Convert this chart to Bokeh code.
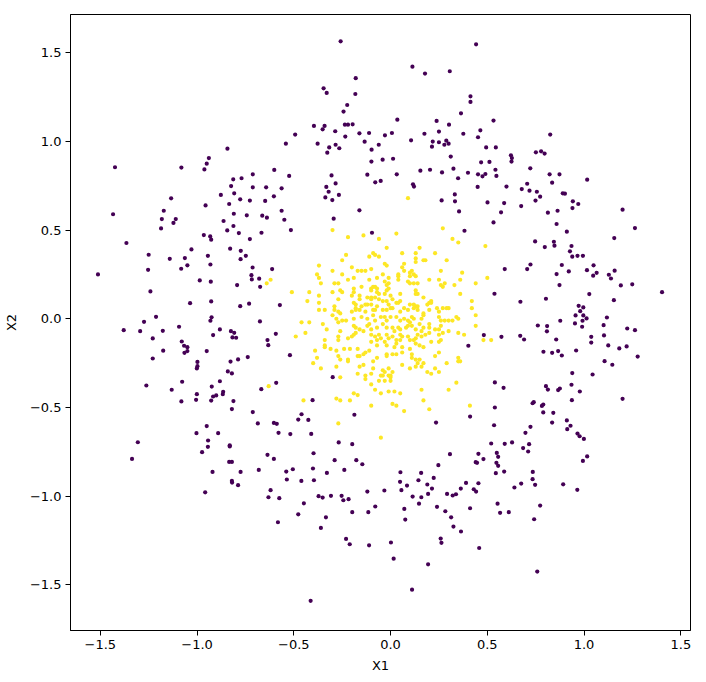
from bokeh.plotting import figure
from bokeh.models import FixedTicker, Range1d
from bokeh.embed import file_html
from bokeh.resources import INLINE

# ---- data (x = X1, y = X2) ----
# class 0: outer ring (purple)
outer_x = [
    -0.843, -0.939, -0.950, -0.962, -1.081, -1.424, -0.601, -0.712, -0.813, -0.770,
    -0.824, -0.712, -0.643, -0.808, -0.877, -0.603, -0.777, -0.727, -0.648, -1.134,
    -0.834, -0.956, -1.172, -1.434, -0.810, -0.743, -0.663, -0.639, -1.182, -1.110,
    -0.863, -1.122,
    -0.258, 0.442, 0.113, 0.178, 0.306, -0.180, -0.346, -0.330, -0.182, 0.413,
    0.413, -0.224, -0.243, 0.364, 0.035, 0.238, 0.302, -0.396, -0.341, -0.351,
    -0.236, -0.220, -0.196, -0.286, -0.161, -0.111, 0.007, -0.029, 0.175, 0.250,
    0.376, 0.464, 0.452, -0.493, -0.234, -0.541, -0.377, -0.284, -0.317, -0.265,
    -0.327, -0.134, -0.061, -0.098, 0.106, 0.218, 0.250, 0.288, 0.300, 0.278,
    0.214, 0.311, 0.468, -0.041, 0.013, -0.099, 0.154, 0.204, 0.325, 0.266,
    0.400, 0.452, 0.475, 0.349, -0.524, -0.305, -0.120, 0.032, -0.284, -0.332,
    -0.320, -0.337, -0.267, -0.301, -0.079, -0.051, 0.116, 0.121, 0.450, -0.563,
    0.264, 0.332, 0.333, 0.354, -0.161, -0.563, -0.549, -0.294,
    0.532, 0.825, 0.494, 0.544, 0.751, 0.778, 0.796, 0.622, 0.627, 0.625,
    0.511, 0.542, 0.722, 0.490, 0.547, 0.822, 0.873, 0.835, 1.016, 0.706,
    0.599, 0.678, 0.718, 0.756, 0.773, 0.890, 0.901, 0.749, 0.501, 0.587,
    0.675, 0.942, 0.970, 0.940, 0.863, 0.813, 0.571, 1.199, 0.532, 0.858,
    -1.186, -0.812, -0.844, -0.784, -0.667, -0.965, -0.932, -0.927, -0.727, -1.365,
    -0.829, -0.774, -0.748, -0.775, -1.029, -1.250, -1.141, -1.063, -0.944, -1.050,
    -0.931, -1.082, -1.253, -1.512, -0.713, -0.612, -0.719, -0.717, -0.679, -0.986,
    -0.929, -0.793, -0.674, -1.241, -1.036, -0.927, -0.777, -0.731, -1.212, -1.274,
    -0.925, -0.931, -0.675, -1.379, -1.294, -1.177, -1.093, -0.882, -0.825, -0.808,
    -0.917, -0.817, -0.798, -0.593, -0.636, -0.632, -1.229, -1.079, -1.067, -1.050,
    -1.050, -1.065, -1.175, -0.950, -1.229, -0.998, -0.827, -0.788, -0.738, -0.998,
    -1.001, -0.841, -0.820, -0.882, -1.077, -1.262, -0.924, -0.591, -1.131, -0.668,
    -0.865, -0.867, -0.901, -0.917, -1.001, -1.005, -1.081, -0.927, -0.812, -0.820,
    -0.712, -0.686, -0.603, -0.588, -0.950,
    1.263, 0.911, 1.156, 0.747, 0.797, 0.844, 0.847, 0.935, 0.927, 0.939,
    0.966, 0.994, 0.723, 0.706, 0.590, 0.885, 0.858, 0.921, 1.049, 1.015,
    1.065, 1.047, 1.128, 1.139, 1.158, 1.190, 1.249, 1.403, 0.873, 0.537,
    0.671, 0.803, 1.027, 1.154, 0.972, 0.996, 0.980, 0.956, 0.996, 1.013,
    0.992, 0.953, 0.990, 0.877, 1.118, 1.101, 0.761, 0.809, 0.808, 1.223,
    1.263, 1.103, 1.037, 1.037, 0.670, 0.690, 0.573, 0.856, 1.125, 1.182,
    1.220, 0.790, 0.835, 0.866, 0.885, 0.959, 1.277, 1.106, 1.146, 0.939,
    1.044, 0.539, 0.584, 0.803, 0.813, 0.866, 0.875, 0.935, 0.978, 1.199,
    0.937, 0.734, 0.740, 0.782, 0.789, 0.539, 0.789, 0.841, 0.835, 0.911,
    0.930, 0.913, 0.535, 0.723,
    -1.003, -0.891, -0.579, -1.306, -0.943, -0.944, -0.974, -0.831, -0.831, -1.336,
    -0.636, -0.603, -0.834, -0.820, -0.920, -0.775, -0.681, -0.820, -0.819, -0.788,
    -0.620, -0.958, -0.631, -0.575, -0.582,
    -0.518, -0.410, -0.268, -0.198, -0.398, -0.289, -0.177, -0.146, -0.401, -0.239,
    -0.539, -0.505, -0.329, -0.536, -0.461, -0.396, -0.372, -0.351, -0.308, -0.253,
    -0.244, -0.217, -0.120, -0.032, -0.448, -0.477, -0.334, -0.198, -0.115, -0.079,
    -0.360, -0.230, -0.211, -0.111, 0.002, 0.016, -0.413, 0.111, 0.194, 0.051,
    0.158, 0.049, 0.056, 0.085, 0.144, 0.190, 0.223, 0.214, 0.194, 0.114,
    0.159, 0.147, 0.071, 0.076, 0.247, 0.307, 0.454, 0.440, 0.447, 0.480,
    0.454, 0.390, 0.363, 0.430, 0.442, 0.292, 0.321, 0.338, 0.240, 0.283,
    0.313, 0.325, 0.364, 0.411, 0.259, 0.263, 0.458,
    0.697, 0.966, 0.977, 0.999, 0.520, 0.590, 0.628, 0.716, 0.685, 0.711,
    0.549, 0.556, 1.016, 0.994, 0.547, 0.556, 0.544, 0.587, 0.735, 0.734,
    0.747, 0.675, 0.640, 0.892, 0.965, 0.553, 0.773, 0.566, 0.611, 0.742,
    0.758,
    -0.515, -0.096, 0.382, -0.572, -0.520, -0.299, -0.403, -0.460, -0.477, -0.425,
    -0.187, 0.235, 0.411, 0.402, 0.482,
]
outer_y = [
    0.959, 0.906, 0.874, 0.842, 0.852, 0.854, 0.839, 0.814, 0.786, 0.792,
    0.748, 0.741, 0.741, 0.707, 0.698, 0.690, 0.673, 0.666, 0.664, 0.679,
    0.647, 0.639, 0.609, 0.589, 0.592, 0.583, 0.581, 0.570, 0.562, 0.562,
    0.551, 0.540,
    1.564, 1.547, 1.421, 1.382, 1.395, 1.356, 1.299, 1.273, 1.267, 1.254,
    1.222, 1.205, 1.168, 1.158, 1.122, 1.115, 1.094, 1.087, 1.087, 1.068,
    1.094, 1.094, 1.096, 1.057, 1.045, 1.047, 1.047, 1.034, 1.043, 1.055,
    1.043, 1.062, 1.023, 1.038, 1.027, 0.987, 0.987, 0.981, 0.966, 0.961,
    0.936, 0.998, 0.981, 0.953, 1.006, 0.999, 0.995, 1.004, 0.987, 0.981,
    0.970, 0.914, 0.882, 0.897, 0.902, 0.886, 0.835, 0.840, 0.846, 0.825,
    0.823, 0.814, 0.803, 0.792, 0.805, 0.808, 0.812, 0.814, 0.763, 0.743,
    0.716, 0.684, 0.698, 0.669, 0.769, 0.777, 0.758, 0.745, 0.743, 0.735,
    0.667, 0.701, 0.662, 0.605, 0.611, 0.609, 0.558, 0.564,
    1.117, 1.038, 0.966, 0.966, 0.938, 0.944, 0.931, 0.921, 0.906, 0.886,
    0.884, 0.840, 0.848, 0.816, 0.805, 0.814, 0.814, 0.767, 0.784, 0.761,
    0.745, 0.731, 0.722, 0.716, 0.688, 0.707, 0.705, 0.666, 0.656, 0.652,
    0.635, 0.662, 0.647, 0.624, 0.609, 0.598, 0.600, 0.615, 0.543, 0.534,
    0.509, 0.523, 0.498, 0.483, 0.485, 0.472, 0.464, 0.446, 0.449, 0.427,
    0.395, 0.383, 0.355, 0.336, 0.391, 0.361, 0.338, 0.342, 0.355, 0.301,
    0.306, 0.282, 0.276, 0.250, 0.289, 0.280, 0.246, 0.222, 0.226, 0.216,
    0.209, 0.190, 0.180, 0.154, 0.088, 0.098, 0.071, 0.085, 0.011, -0.017,
    0.008, -0.011, -0.015, -0.064, -0.070, -0.068, -0.045, -0.060, -0.070, -0.079,
    -0.092, -0.105, -0.107, -0.085, -0.120, -0.149, -0.111, -0.128, -0.152, -0.160,
    -0.182, -0.192, -0.180, -0.182, -0.224, -0.243, -0.241, -0.229, -0.216, -0.267,
    -0.280, -0.297, -0.308, -0.352, -0.355, -0.376, -0.382, -0.361, -0.400, -0.397,
    -0.412, -0.425, -0.432, -0.438, -0.425, -0.457, -0.466, -0.461, -0.464, -0.509,
    -0.526, -0.590, -0.587, -0.592, -0.605,
    0.511, 0.491, 0.455, 0.436, 0.404, 0.434, 0.412, 0.410, 0.380, 0.350,
    0.355, 0.355, 0.306, 0.280, 0.280, 0.303, 0.252, 0.267, 0.301, 0.274,
    0.259, 0.243, 0.248, 0.227, 0.271, 0.188, 0.194, 0.150, 0.190, 0.141,
    0.096, 0.113, 0.139, 0.105, 0.073, 0.064, 0.043, 0.019, 0.019, 0.002,
    -0.011, -0.026, -0.045, -0.011, 0.007, -0.036, -0.038, -0.041, -0.071, -0.055,
    -0.064, -0.094, -0.102, -0.134, -0.096, -0.117, -0.102, -0.117, -0.150, -0.167,
    -0.156, -0.186, -0.192, -0.182, -0.207, -0.179, -0.213, -0.239, -0.259, -0.306,
    -0.314, -0.359, -0.389, -0.380, -0.399, -0.402, -0.393, -0.372, -0.410, -0.451,
    -0.459, -0.476, -0.470, -0.491, -0.483, -0.500, -0.528, -0.530, -0.585, -0.573,
    -0.603, -0.622, -0.600, -0.609,
    -0.645, -0.645, -0.643, -0.696, -0.686, -0.722, -0.752, -0.713, -0.720, -0.790,
    -0.767, -0.790, -0.807, -0.807, -0.863, -0.863, -0.852, -0.914, -0.923, -0.938,
    -0.966, -0.978, -1.006, -1.011, -1.147,
    -0.650, -0.649, -0.697, -0.707, -0.758, -0.797, -0.797, -0.820, -0.844, -0.852,
    -0.861, -0.848, -0.869, -0.906, -0.914, -0.910, -1.000, -1.008, -0.998, -0.998,
    -1.023, -1.017, -0.974, -0.968, -1.040, -1.102, -1.119, -1.090, -1.090, -1.058,
    -1.179, -1.241, -1.271, -1.277, -1.261, -1.352, -1.590, -1.527, -1.384, -0.865,
    -0.869, -0.919, -0.966, -0.940, -0.910, -0.934, -0.897, -0.957, -0.987, -1.002,
    -1.006, -1.042, -1.072, -1.132, -0.825, -0.763, -0.761, -0.808, -0.812, -0.791,
    -0.927, -0.925, -0.957, -0.961, -0.974, -0.987, -0.996, -0.989, -1.060, -1.085,
    -1.119, -1.171, -1.199, -1.068, -1.239, -1.263, -1.292,
    -0.643, -0.647, -0.662, -0.677, -0.703, -0.705, -0.697, -0.707, -0.729, -0.748,
    -0.756, -0.778, -0.776, -0.801, -0.812, -0.829, -0.870, -0.861, -0.863, -0.904,
    -0.936, -0.929, -0.951, -0.933, -0.964, -1.042, -1.053, -1.094, -1.090, -1.130,
    -1.425,
    0.500, 0.485, 0.496, 0.077, -0.205, -0.329, -0.459, -0.538, -0.568, -0.570,
    -0.541, -0.585, -0.551, -0.152, -0.092,
]

# class 1: inner blob (yellow)
inner_x = [
    -0.30, 0.27, -0.22, -0.14, -0.06, 0.03, 0.32, 0.35, 0.49, -0.02,
    0.15, -0.09, -0.08, -0.23, -0.11, -0.06, 0.06, 0.13, 0.23, -0.25,
    -0.37, -0.03, -0.02, 0.07, 0.13, 0.13, 0.18, 0.17, 0.29, -0.20,
    -0.10, 0.07, 0.11, 0.06, -0.30, -0.38, -0.37, -0.17, -0.15, -0.13,
    -0.07, -0.04, -0.01, -0.03, 0.04, 0.04, 0.04, 0.10, 0.12, 0.13,
    0.10, 0.26, 0.37, 0.20, 0.25, 0.28, 0.36, -0.25, -0.19, -0.22,
    -0.11, -0.36, -0.29, -0.27, -0.15, -0.10, -0.09, -0.08, -0.07, -0.10,
    -0.07, -0.02, -0.01, -0.01, -0.02, -0.06, 0.09, 0.10, 0.12, 0.14,
    0.26, 0.33, 0.44, -0.30, -0.26, -0.25, -0.19, -0.19, -0.51, -0.42,
    0.13, 0.13, 0.14, 0.27, -0.37, -0.27, -0.20, -0.19, -0.16, -0.16,
    -0.12, -0.10, -0.10, -0.08, -0.06, -0.03, -0.04, -0.02, 0.01, 0.00,
    0.03, 0.04, 0.05, 0.05, 0.17, 0.20, 0.21, 0.21, 0.36, 0.42,
    -0.43, -0.37, -0.29, -0.18, -0.18, -0.15, -0.13, -0.12, -0.10, -0.07,
    -0.01, 0.10, 0.12, 0.13, 0.14, 0.19, 0.24, 0.27, 0.29, 0.30,
    -0.37, -0.34, -0.29, -0.27, -0.30, -0.28, -0.26, -0.20, -0.18, -0.16,
    -0.13, -0.09, -0.08, -0.04, -0.02, 0.00, 0.01, 0.05, 0.07, 0.09,
    0.12, 0.14, 0.17, 0.20, 0.25, 0.28, 0.34, 0.42, 0.35, -0.25,
    -0.23, -0.15, -0.12, -0.09, -0.08, -0.05, -0.03, -0.02, 0.00, 0.03,
    0.05, 0.07, 0.09, 0.11, 0.12, 0.16, 0.17, 0.20, 0.25, 0.26,
    0.30, 0.32, 0.44, -0.19, -0.46, -0.42, -0.35, -0.33, -0.27, -0.19,
    -0.18, -0.12, -0.11, -0.16, -0.10, -0.07, -0.04, -0.02, 0.01, 0.02,
    0.04, 0.05, 0.08, 0.09, 0.10, 0.13, 0.11, 0.15, 0.17, 0.20,
    0.23, 0.25, 0.26, 0.30, 0.35, 0.38, 0.44, -0.44, -0.26, -0.19,
    -0.18, -0.14, -0.06, 0.16, 0.20, 0.27, -0.49, -0.34, -0.34, -0.34,
    -0.27, -0.22, -0.20, -0.10, -0.08, -0.05, -0.02, -0.01, 0.01, 0.05,
    0.06, 0.09, 0.13, 0.14, 0.16, 0.18, 0.25, 0.26, 0.13, 0.15,
    0.17, 0.21, 0.25, -0.27, -0.10, -0.07, -0.03, 0.03, 0.03, 0.05,
    0.10, 0.12, -0.07, -0.17, -0.02, 0.02, 0.06, 0.10, 0.48, -0.39,
    -0.31, -0.28, -0.24, -0.21, -0.27, -0.26, -0.22, -0.22, -0.17, -0.16,
    -0.14, -0.13, -0.11, -0.07, -0.09, -0.02, -0.02, 0.01, 0.03, 0.06,
    0.11, 0.11, 0.13, 0.15, 0.23, 0.25, 0.35, 0.35, 0.36, -0.38,
    -0.40, -0.36, -0.28, 0.14, -0.16, -0.14, -0.09, -0.04, -0.03, -0.01,
    0.01, 0.00, 0.06, 0.10, 0.13, 0.16, 0.17, 0.19, 0.21, 0.23,
    0.25, 0.29, -0.17, -0.13, -0.10, -0.05, -0.04, -0.01, 0.00, -0.26,
    -0.13, -0.10, -0.06, -0.03, 0.00, 0.30, 0.34, 0.16, -0.08, -0.05,
    -0.01, 0.02, 0.05, -0.19, -0.17, -0.28, -0.26, -0.21, -0.45, 0.01,
    0.03, 0.17, 0.41, -0.10, 0.20, 0.07, -0.27, -0.64, -0.62, -0.63,
    0.09, -0.05, 0.52, 0.50,
]
inner_y = [
    0.50, 0.51, 0.46, 0.47, 0.45, 0.48, 0.45, 0.43, 0.41, 0.40,
    0.40, 0.37, 0.36, 0.36, 0.35, 0.35, 0.37, 0.37, 0.37, 0.33,
    0.30, 0.31, 0.30, 0.31, 0.34, 0.32, 0.33, 0.33, 0.33, 0.29,
    0.28, 0.27, 0.27, 0.29, 0.27, 0.25, 0.23, 0.27, 0.27, 0.27,
    0.23, 0.25, 0.23, 0.21, 0.25, 0.24, 0.22, 0.26, 0.25, 0.24,
    0.24, 0.27, 0.26, 0.22, 0.22, 0.20, 0.22, 0.25, 0.23, 0.22,
    0.22, 0.20, 0.20, 0.20, 0.18, 0.17, 0.18, 0.18, 0.17, 0.16,
    0.15, 0.19, 0.17, 0.20, 0.16, 0.14, 0.21, 0.20, 0.20, 0.20,
    0.19, 0.19, 0.20, 0.15, 0.16, 0.15, 0.17, 0.15, 0.15, 0.15,
    0.16, 0.14, 0.14, 0.18, 0.13, 0.11, 0.13, 0.09, 0.11, 0.13,
    0.12, 0.12, 0.11, 0.12, 0.11, 0.14, 0.10, 0.10, 0.11, 0.13,
    0.09, 0.09, 0.14, 0.10, 0.12, 0.09, 0.10, 0.09, 0.14, 0.10,
    0.10, 0.09, 0.07, 0.08, 0.06, 0.07, 0.08, 0.08, 0.08, 0.07,
    0.08, 0.08, 0.08, 0.07, 0.07, 0.08, 0.06, 0.06, 0.06, 0.06,
    0.05, 0.05, 0.05, 0.04, 0.02, 0.00, 0.03, 0.04, 0.05, 0.05,
    0.04, 0.05, 0.05, 0.05, 0.05, 0.06, 0.06, 0.04, 0.06, 0.05,
    0.06, 0.05, 0.03, 0.05, 0.04, -0.01, 0.01, 0.06, 0.00, -0.01,
    -0.01, 0.01, 0.00, 0.02, -0.01, 0.01, 0.01, -0.01, 0.01, 0.01,
    -0.01, 0.00, -0.01, 0.01, 0.00, 0.00, 0.02, -0.03, 0.01, -0.01,
    -0.01, -0.01, 0.02, 0.00, -0.02, -0.02, -0.03, -0.06, -0.02, -0.04,
    -0.05, -0.04, -0.03, -0.06, -0.06, -0.05, -0.03, -0.05, -0.05, -0.07,
    -0.05, -0.06, -0.05, -0.04, -0.02, -0.06, -0.04, -0.03, -0.05, -0.05,
    -0.06, -0.06, -0.04, -0.07, -0.08, -0.09, -0.04, -0.08, -0.07, -0.09,
    -0.08, -0.07, -0.09, -0.07, -0.08, -0.08, -0.10, -0.12, -0.15, -0.16,
    -0.10, -0.11, -0.10, -0.09, -0.10, -0.11, -0.09, -0.11, -0.10, -0.09,
    -0.10, -0.10, -0.11, -0.09, -0.10, -0.09, -0.09, -0.12, -0.14, -0.15,
    -0.16, -0.13, -0.13, -0.12, -0.13, -0.12, -0.13, -0.12, -0.14, -0.12,
    -0.12, -0.12, -0.15, -0.17, -0.15, -0.16, -0.16, -0.17, -0.12, -0.18,
    -0.17, -0.18, -0.17, -0.17, -0.21, -0.23, -0.23, -0.24, -0.21, -0.21,
    -0.20, -0.19, -0.18, -0.22, -0.24, -0.20, -0.21, -0.20, -0.20, -0.19,
    -0.20, -0.22, -0.23, -0.23, -0.21, -0.19, -0.22, -0.24, -0.24, -0.22,
    -0.25, -0.28, -0.27, -0.25, -0.27, -0.26, -0.28, -0.29, -0.30, -0.28,
    -0.30, -0.32, -0.26, -0.28, -0.27, -0.27, -0.25, -0.30, -0.31, -0.28,
    -0.30, -0.25, -0.31, -0.32, -0.31, -0.32, -0.32, -0.32, -0.33, -0.33,
    -0.34, -0.37, -0.35, -0.35, -0.35, -0.40, -0.36, -0.40, -0.40, -0.42,
    -0.41, -0.41, -0.42, -0.42, -0.43, -0.45, -0.46, -0.46, -0.46, -0.48,
    -0.49, -0.46, -0.49, -0.49, -0.51, -0.52, -0.59, 0.20, 0.22, -0.38,
    0.68, -0.67, -0.12, 0.23,
]

tick_values = [-1.5, -1.0, -0.5, 0.0, 0.5, 1.0, 1.5]
tick_labels = ["\u22121.5", "\u22121.0", "\u22120.5", "0.0", "0.5", "1.0", "1.5"]
x_label = "X1"
y_label = "X2"
outer_color = "#440154"
inner_color = "#fde725"

FONT = "DejaVu Sans"

p = figure(
    frame_width=620, frame_height=616,
    x_range=Range1d(-1.654, 1.550), y_range=Range1d(-1.757, 1.715),
    output_backend="svg", toolbar_location=None,
    min_border_left=65, min_border_right=5, min_border_top=14, min_border_bottom=44,
    background_fill_color="white", border_fill_color="white",
)
p.outline_line_color = "black"
p.outline_line_width = 1
p.xgrid.visible = False
p.ygrid.visible = False

p.scatter(inner_x, inner_y, size=4.2, fill_color=inner_color, line_color=None)
p.scatter(outer_x, outer_y, size=4.2, fill_color=outer_color, line_color=None)

overrides = {v: s for v, s in zip(tick_values, tick_labels)}
for ax in (p.xaxis[0], p.yaxis[0]):
    ax.ticker = FixedTicker(ticks=tick_values)
    ax.major_label_overrides = overrides
    ax.minor_tick_line_color = None
    ax.major_tick_in = 0
    ax.major_tick_out = 5
    ax.major_tick_line_color = "black"
    ax.axis_line_color = "black"
    ax.major_label_text_font = FONT
    ax.major_label_text_font_size = "13px"
    ax.major_label_text_color = "black"
    ax.axis_label_text_font = FONT
    ax.axis_label_text_font_size = "13px"
    ax.axis_label_text_font_style = "normal"
    ax.axis_label_text_color = "black"
    ax.major_label_standoff = 4

p.xaxis[0].axis_label = x_label
p.yaxis[0].axis_label = y_label
p.xaxis[0].axis_label_standoff = 6
p.yaxis[0].axis_label_standoff = 8
p.yaxis[0].major_label_orientation = "horizontal"

open("out.html", "w").write(file_html(p, INLINE))
